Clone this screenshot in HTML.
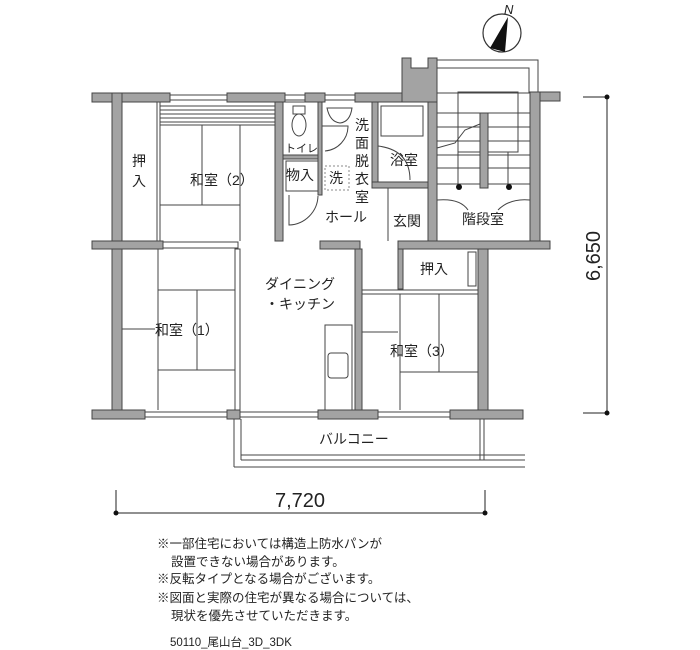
<!DOCTYPE html>
<html><head><meta charset="utf-8"><style>
body{margin:0;background:#fff;width:700px;height:650px;overflow:hidden}
svg{display:block}
.w{fill:#a3a3a3;stroke:#444;stroke-width:1}
.t{stroke:#444;stroke-width:1;fill:none}
text{font-family:"Liberation Sans","Noto Sans CJK JP",sans-serif;fill:#222}
</style></head><body>
<svg width="700" height="650" viewBox="0 0 700 650">
<circle cx="502" cy="33" r="19" fill="#fff" stroke="#333" stroke-width="1.2"/>
<path d="M508 17 L505 52 L490 48 Z" fill="#111"/>
<text x="504" y="14" font-size="13" font-style="italic">N</text>
<rect class="t" x="437" y="60" width="101" height="33"/>
<rect class="t" x="437" y="68" width="92" height="25"/>
<path class="w" d="M402 58 H411 V68 H428 V58 H437 V102 H402 Z"/>
<rect class="w" x="530" y="92" width="30" height="9"/>
<rect class="w" x="530" y="92" width="10" height="150"/>
<rect class="w" x="92" y="93" width="78" height="9"/>
<rect class="w" x="227" y="93" width="58" height="9"/>
<rect class="w" x="305" y="93" width="20" height="9"/>
<rect class="w" x="355" y="93" width="47" height="9"/>
<rect class="t" x="170" y="95" width="57" height="5"/>
<rect class="t" x="285" y="95" width="20" height="5"/>
<rect class="t" x="325" y="95" width="30" height="5"/>
<rect class="w" x="112" y="93" width="10" height="325"/>
<line class="t" x1="157" y1="102" x2="157" y2="241"/><line class="t" x1="160" y1="102" x2="160" y2="241"/>
<g class="t">
<line x1="160" y1="106" x2="275" y2="106"/><line x1="160" y1="110" x2="275" y2="110"/><line x1="160" y1="114" x2="275" y2="114"/><line x1="160" y1="118" x2="275" y2="118"/><line x1="160" y1="122" x2="275" y2="122"/>
<line x1="160" y1="125" x2="275" y2="125"/>
<line x1="202" y1="125" x2="202" y2="205"/><line x1="240" y1="125" x2="240" y2="241"/>
<line x1="160" y1="205" x2="240" y2="205"/>
</g>
<rect class="w" x="275" y="102" width="8" height="139"/>
<rect class="t" x="283" y="102" width="35" height="56"/>
<ellipse class="t" cx="299" cy="125" rx="7" ry="11"/>
<rect class="t" x="293" y="106" width="12" height="8"/>
<rect class="w" x="283" y="155" width="35" height="4"/>
<rect class="t" x="286" y="161" width="32" height="30"/>
<rect class="w" x="318" y="102" width="4" height="93"/>
<rect x="325" y="166" width="24" height="24" fill="none" stroke="#888" stroke-dasharray="2,2"/>
<path class="t" d="M322 126 H348 A25 25 0 0 1 325 151"/>
<path class="t" d="M327 108 H352 Q350 122 340 123 Q330 122 327 108Z"/>
<path class="t" d="M289 195 V225 A30 30 0 0 0 318 196"/>
<rect class="w" x="372" y="102" width="6" height="86"/>
<rect class="w" x="372" y="182" width="56" height="6"/>
<rect class="t" x="381" y="106" width="42" height="30"/>
<path class="t" d="M378 146 Q410 150 410 180"/>
<rect class="w" x="428" y="102" width="9" height="139"/>
<line class="t" x1="388" y1="188" x2="388" y2="241"/>
<g class="t">
<rect x="458" y="92" width="60" height="60"/>
<line x1="437" y1="113" x2="530" y2="113"/><line x1="437" y1="127" x2="530" y2="127"/><line x1="437" y1="141" x2="530" y2="141"/><line x1="437" y1="155" x2="530" y2="155"/><line x1="437" y1="168" x2="530" y2="168"/><line x1="437" y1="184" x2="530" y2="184"/>
<line x1="458" y1="117" x2="458" y2="187"/><line x1="508" y1="152" x2="508" y2="187"/>
<path d="M437 148 L455 143 L465 130 L485 122"/>
<path d="M437 200 Q460 198 468 210 M530 200 Q510 198 498 210"/>
</g>
<rect class="w" x="480" y="113" width="8" height="75"/>
<circle cx="459" cy="187" r="3" fill="#111"/><circle cx="509" cy="187" r="3" fill="#111"/>
<rect class="w" x="92" y="241" width="71" height="8"/>
<rect class="t" x="163" y="242" width="75" height="6"/>
<rect class="w" x="320" y="241" width="40" height="8"/>
<rect class="w" x="398" y="241" width="152" height="8"/>
<rect class="t" x="235" y="249" width="5" height="161"/>
<g class="t">
<line x1="158" y1="249" x2="158" y2="410"/><line x1="158" y1="290" x2="235" y2="290"/>
<line x1="197" y1="290" x2="197" y2="370"/><line x1="158" y1="370" x2="235" y2="370"/>
<line x1="122" y1="329" x2="155" y2="329"/>
<rect x="325" y="325" width="27" height="85"/><rect x="328" y="353" width="20" height="25" rx="3"/>
<line x1="362" y1="290" x2="478" y2="290"/><line x1="362" y1="294" x2="478" y2="294"/>
<line x1="400" y1="294" x2="400" y2="410"/><line x1="439" y1="294" x2="439" y2="372"/>
<line x1="400" y1="372" x2="478" y2="372"/><line x1="362" y1="332" x2="398" y2="332"/>
</g>
<rect class="w" x="355" y="249" width="7" height="161"/>
<rect class="w" x="398" y="249" width="5" height="40"/>
<rect class="t" x="468" y="252" width="8" height="34"/>
<rect class="w" x="478" y="249" width="10" height="169"/>
<rect class="w" x="92" y="410" width="53" height="9"/>
<rect class="t" x="145" y="412" width="82" height="5"/>
<rect class="w" x="227" y="410" width="13" height="9"/>
<rect class="t" x="240" y="412" width="78" height="5"/>
<rect class="w" x="318" y="410" width="60" height="9"/>
<rect class="t" x="378" y="412" width="72" height="5"/>
<rect class="w" x="450" y="410" width="73" height="9"/>
<g class="t">
<line x1="234" y1="419" x2="234" y2="467"/><line x1="241" y1="419" x2="241" y2="460"/>
<line x1="241" y1="455" x2="525" y2="455"/><line x1="241" y1="460" x2="525" y2="460"/><line x1="234" y1="467" x2="525" y2="467"/>
<rect x="480" y="419" width="4" height="41"/>
</g>
<g stroke="#222" stroke-width="1">
<line x1="583" y1="97" x2="607" y2="97"/><line x1="583" y1="413" x2="607" y2="413"/><line x1="607" y1="97" x2="607" y2="413"/>
<line x1="116" y1="490" x2="116" y2="513"/><line x1="485" y1="490" x2="485" y2="513"/><line x1="116" y1="513" x2="485" y2="513"/>
</g>
<circle cx="607" cy="97" r="2.5" fill="#111"/><circle cx="607" cy="413" r="2.5" fill="#111"/>
<circle cx="116" cy="513" r="2.5" fill="#111"/><circle cx="485" cy="513" r="2.5" fill="#111"/>
<text x="600" y="256" font-size="20" transform="rotate(-90 600 256)" text-anchor="middle">6,650</text>
<text x="300" y="507" font-size="20" text-anchor="middle">7,720</text>
<g font-size="14">
<text x="132" y="166">押</text><text x="132" y="186">入</text>
<text x="190" y="185">和室（2）</text>
<text x="286" y="180">物入</text><text x="329" y="183">洗</text>
<text x="285" y="152" font-size="11">トイレ</text>
<text x="355" y="130">洗</text><text x="355" y="148">面</text><text x="355" y="166">脱</text><text x="355" y="184">衣</text><text x="355" y="202">室</text>
<text x="325" y="222">ホール</text>
<text x="390" y="165">浴室</text>
<text x="393" y="226">玄関</text>
<text x="462" y="224">階段室</text>
<text x="265" y="289">ダイニング</text>
<text x="265" y="309">・キッチン</text>
<text x="155" y="335">和室（1）</text>
<text x="420" y="274">押入</text>
<text x="390" y="356">和室（3）</text>
<text x="319" y="444">バルコニー</text>
</g>
<g font-size="12.5">
<text x="157" y="548">※一部住宅においては構造上防水パンが</text>
<text x="171" y="566">設置できない場合があります。</text>
<text x="157" y="583">※反転タイプとなる場合がございます。</text>
<text x="157" y="602">※図面と実際の住宅が異なる場合については、</text>
<text x="171" y="620">現状を優先させていただきます。</text>
<text x="170" y="646" font-size="11.5">50110_尾山台_3D_3DK</text>
</g>
</svg>
</body></html>
